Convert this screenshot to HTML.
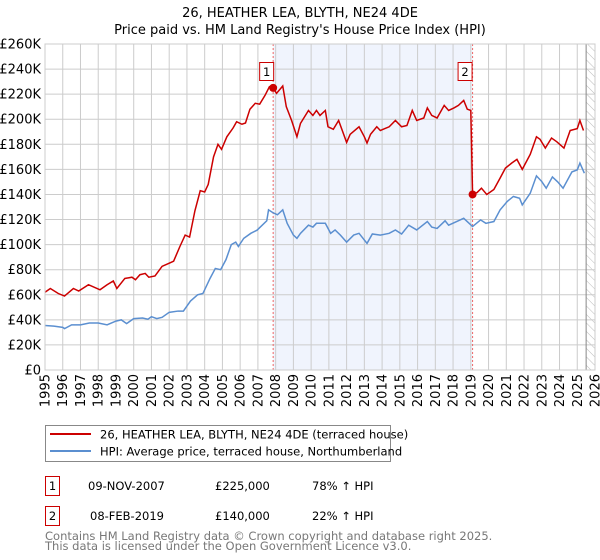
<!DOCTYPE html>
<html><head><meta charset="utf-8"><style>
body{margin:0;background:#fff;font-family:"DejaVu Sans","Liberation Sans",sans-serif;}
svg{display:block}
</style></head><body>
<svg id="chart" width="600" height="560" xmlns="http://www.w3.org/2000/svg" font-family="DejaVu Sans, Liberation Sans, sans-serif">
<defs><pattern id="hatch" width="6" height="6" patternUnits="userSpaceOnUse" patternTransform="rotate(-45)"><line x1="0" y1="0" x2="0" y2="6" stroke="#bbb" stroke-width="1"/></pattern></defs>
<text x="300" y="17" text-anchor="middle" font-size="13">26, HEATHER LEA, BLYTH, NE24 4DE</text>
<text x="300" y="34" text-anchor="middle" font-size="13">Price paid vs. HM Land Registry's House Price Index (HPI)</text>
<g id="plot"></g>
<g>
<rect x="45.5" y="425.5" width="345" height="36" fill="#fff" stroke="#888"/>
<line x1="50" y1="434" x2="91" y2="434" stroke="#cc0000" stroke-width="2"/>
<text x="100" y="438.5" font-size="11.5">26, HEATHER LEA, BLYTH, NE24 4DE (terraced house)</text>
<line x1="50" y1="451" x2="91" y2="451" stroke="#5b8fd0" stroke-width="2"/>
<text x="100" y="455.5" font-size="11.5">HPI: Average price, terraced house, Northumberland</text>
</g>
<g font-size="11.5">
<rect x="45.5" y="476.5" width="14" height="19" fill="#fff" stroke="#cc0000"/>
<text x="52.5" y="490" text-anchor="middle">1</text>
<text x="88" y="490">09-NOV-2007</text><text x="215" y="490">£225,000</text><text x="312" y="490">78% ↑ HPI</text>
<rect x="45.5" y="506.5" width="14" height="19" fill="#fff" stroke="#cc0000"/>
<text x="52.5" y="520" text-anchor="middle">2</text>
<text x="90" y="520">08-FEB-2019</text><text x="215" y="520">£140,000</text><text x="312" y="520">22% ↑ HPI</text>
</g>
<text x="45" y="540" font-size="11.5" fill="#777">Contains HM Land Registry data © Crown copyright and database right 2025.</text>
<text x="45" y="550" font-size="11.5" fill="#777">This data is licensed under the Open Government Licence v3.0.</text>
</svg>
<script>
const yTicks=[0,20,40,60,80,100,120,140,160,180,200,220,240,260];
const xYears=[1995,1996,1997,1998,1999,2000,2001,2002,2003,2004,2005,2006,2007,2008,2009,2010,2011,2012,2013,2014,2015,2016,2017,2018,2019,2020,2021,2022,2023,2024,2025,2026];
const saleDates=[2007.86,2019.1];
const salePrices=[225,140];
const propT=[1995.0,1995.3,1995.75,1996.1,1996.6,1996.9,1997.45,1998.1,1998.5,1998.85,1999.05,1999.5,1999.9,2000.1,2000.35,2000.65,2000.85,2001.2,2001.6,2002.05,2002.25,2002.6,2002.9,2003.15,2003.45,2003.75,2004.0,2004.2,2004.5,2004.75,2004.95,2005.25,2005.6,2005.8,2006.1,2006.3,2006.55,2006.85,2007.1,2007.4,2007.65,2007.86,2008.05,2008.4,2008.6,2008.9,2009.2,2009.4,2009.85,2010.1,2010.3,2010.5,2010.8,2010.95,2011.25,2011.55,2012.0,2012.2,2012.7,2013.0,2013.15,2013.35,2013.7,2013.9,2014.4,2014.75,2015.1,2015.4,2015.7,2015.95,2016.35,2016.55,2016.8,2017.1,2017.5,2017.75,2018.05,2018.3,2018.6,2018.8,2019.0,2019.1,2019.35,2019.6,2019.9,2020.3,2020.65,2020.95,2021.3,2021.6,2021.9,2022.35,2022.7,2022.9,2023.2,2023.55,2023.85,2024.25,2024.6,2025.0,2025.15,2025.35];
const propV=[62,65,61,59,65,63,68,64,68,71,65,73,74,72,76,77,74,75,82.7,85.5,86.8,98.4,107.6,106,127,143,142,148,170,180,176,186,193,198,196,197,208,212.7,212,219,226,225,220.6,226.5,210,199,186,196.7,207,203,207,203,207,194,192,199,181.5,188,194,186,181,188,194,191,194,199,194,195,207,199,201,209,203,201,211,207,209,211,215,208,207,140,141.5,145,140,144,153,161,165,168,160,172,186,184,177,185,182,177,191,192.5,199,191];
const hpiT=[1995.0,1995.5,1996.0,1996.1,1996.5,1997.0,1997.5,1998.0,1998.5,1999.0,1999.3,1999.6,2000.0,2000.5,2000.8,2001.0,2001.3,2001.6,2002.0,2002.5,2002.8,2003.2,2003.6,2003.9,2004.3,2004.6,2004.9,2005.2,2005.5,2005.75,2005.9,2006.2,2006.6,2006.95,2007.5,2007.6,2007.83,2008.1,2008.4,2008.65,2009.0,2009.2,2009.4,2009.85,2010.1,2010.3,2010.8,2011.1,2011.35,2011.65,2012.0,2012.4,2012.7,2013.15,2013.45,2013.9,2014.4,2014.75,2015.1,2015.5,2015.95,2016.55,2016.8,2017.1,2017.55,2017.75,2018.2,2018.6,2019.1,2019.55,2019.85,2020.3,2020.65,2021.05,2021.4,2021.75,2021.9,2022.35,2022.7,2023.0,2023.25,2023.6,2023.9,2024.2,2024.7,2025.0,2025.15,2025.4];
const hpiV=[35.5,35,34,33,36,36,37.5,37.5,36,39,40,37,41,41.5,40.5,42.5,41,42,46,47,47,55,60,61,73,81,80,88,100,102,98.5,105,109,111.5,119,127.7,125.6,123.8,127.7,117,107.6,105,109,115.5,114,117,117,109,111.7,107.6,102,107.6,109,101,108.5,107.6,109,111.7,108.5,115.5,111.7,118.4,114,112.9,119,115.5,118.4,121,114.4,119.7,117,118.4,127.7,134.4,138.4,137,131.7,141,154.8,150.3,145,154,150,145,158,159.6,165,157];

const NS="http://www.w3.org/2000/svg";
const L=45,R=595,T=44,B=370;
const x=t=>L+(t-1995)/(2026-1995)*(R-L);
const y=v=>B-v/260*(B-T);
const g=document.getElementById('plot');
function mk(tag,attrs,parent){const e=document.createElementNS(NS,tag);for(const k in attrs)e.setAttribute(k,attrs[k]);(parent||g).appendChild(e);return e;}
// shaded ownership band & hatch
let band=mk('rect',{x:x(saleDates[0]),y:T,width:x(saleDates[1])-x(saleDates[0]),height:B-T,fill:'#f0f4fd'});


let hatch=mk('rect',{x:x(2025.5),y:T,width:R-x(2025.5),height:B-T,fill:'url(#hatch)'});


// grid
yTicks.forEach(v=>{
  let ln=mk('line',{x1:L,x2:R,y1:y(v),y2:y(v),stroke:'#ccc','stroke-width':1});
  
  
  let tx=mk('text',{x:L-4,y:y(v)+4.5,'text-anchor':'end','font-size':13});
  tx.textContent='£'+(v===0?'0':v+'K');
  
  
});
xYears.forEach(t=>{
  let ln=mk('line',{x1:x(t),x2:x(t),y1:T,y2:B,stroke:'#ccc','stroke-width':1});
  
  
  let tx=mk('text',{x:0,y:0,'text-anchor':'end','font-size':13,transform:`translate(${x(t)+4.5},${B+4}) rotate(-90)`});
  tx.textContent=t;
  
  
});
let vl=mk('line',{x1:x(2025.5),x2:x(2025.5),y1:T,y2:B,stroke:'#888','stroke-width':1});


// sale markers lines
saleDates.forEach((d,i)=>{
  let ln=mk('line',{x1:x(d),x2:x(d),y1:T,y2:B,stroke:'#e66','stroke-width':1,'stroke-dasharray':'2,2'});
  
  
});
// series
let hp=mk('polyline',{points:hpiT.map((t,i)=>x(t)+','+y(hpiV[i])).join(' '),fill:'none',stroke:'#5b8fd0','stroke-width':1.5});


let pp=mk('polyline',{points:propT.map((t,i)=>x(t)+','+y(propV[i])).join(' '),fill:'none',stroke:'#cc0000','stroke-width':1.5});


saleDates.forEach((d,i)=>{
  let c=mk('circle',{cx:x(d),cy:y(salePrices[i]),r:4,fill:'#cc0000'});
  
  
  let bx=mk('rect',{x:x(d)-12.5+(i?-2:-1),y:62.5,width:14,height:18,fill:'#fff',stroke:'#cc0000'});
  
  
  let tx=mk('text',{x:x(d)-5.5+(i?-2:-1),y:76,'text-anchor':'middle','font-size':11.5});
  tx.textContent=String(i+1);
  
  
});
let fr=mk('rect',{x:L,y:T,width:R-L,height:B-T,fill:'none',stroke:'#ccc'});


</script>
</body></html>
